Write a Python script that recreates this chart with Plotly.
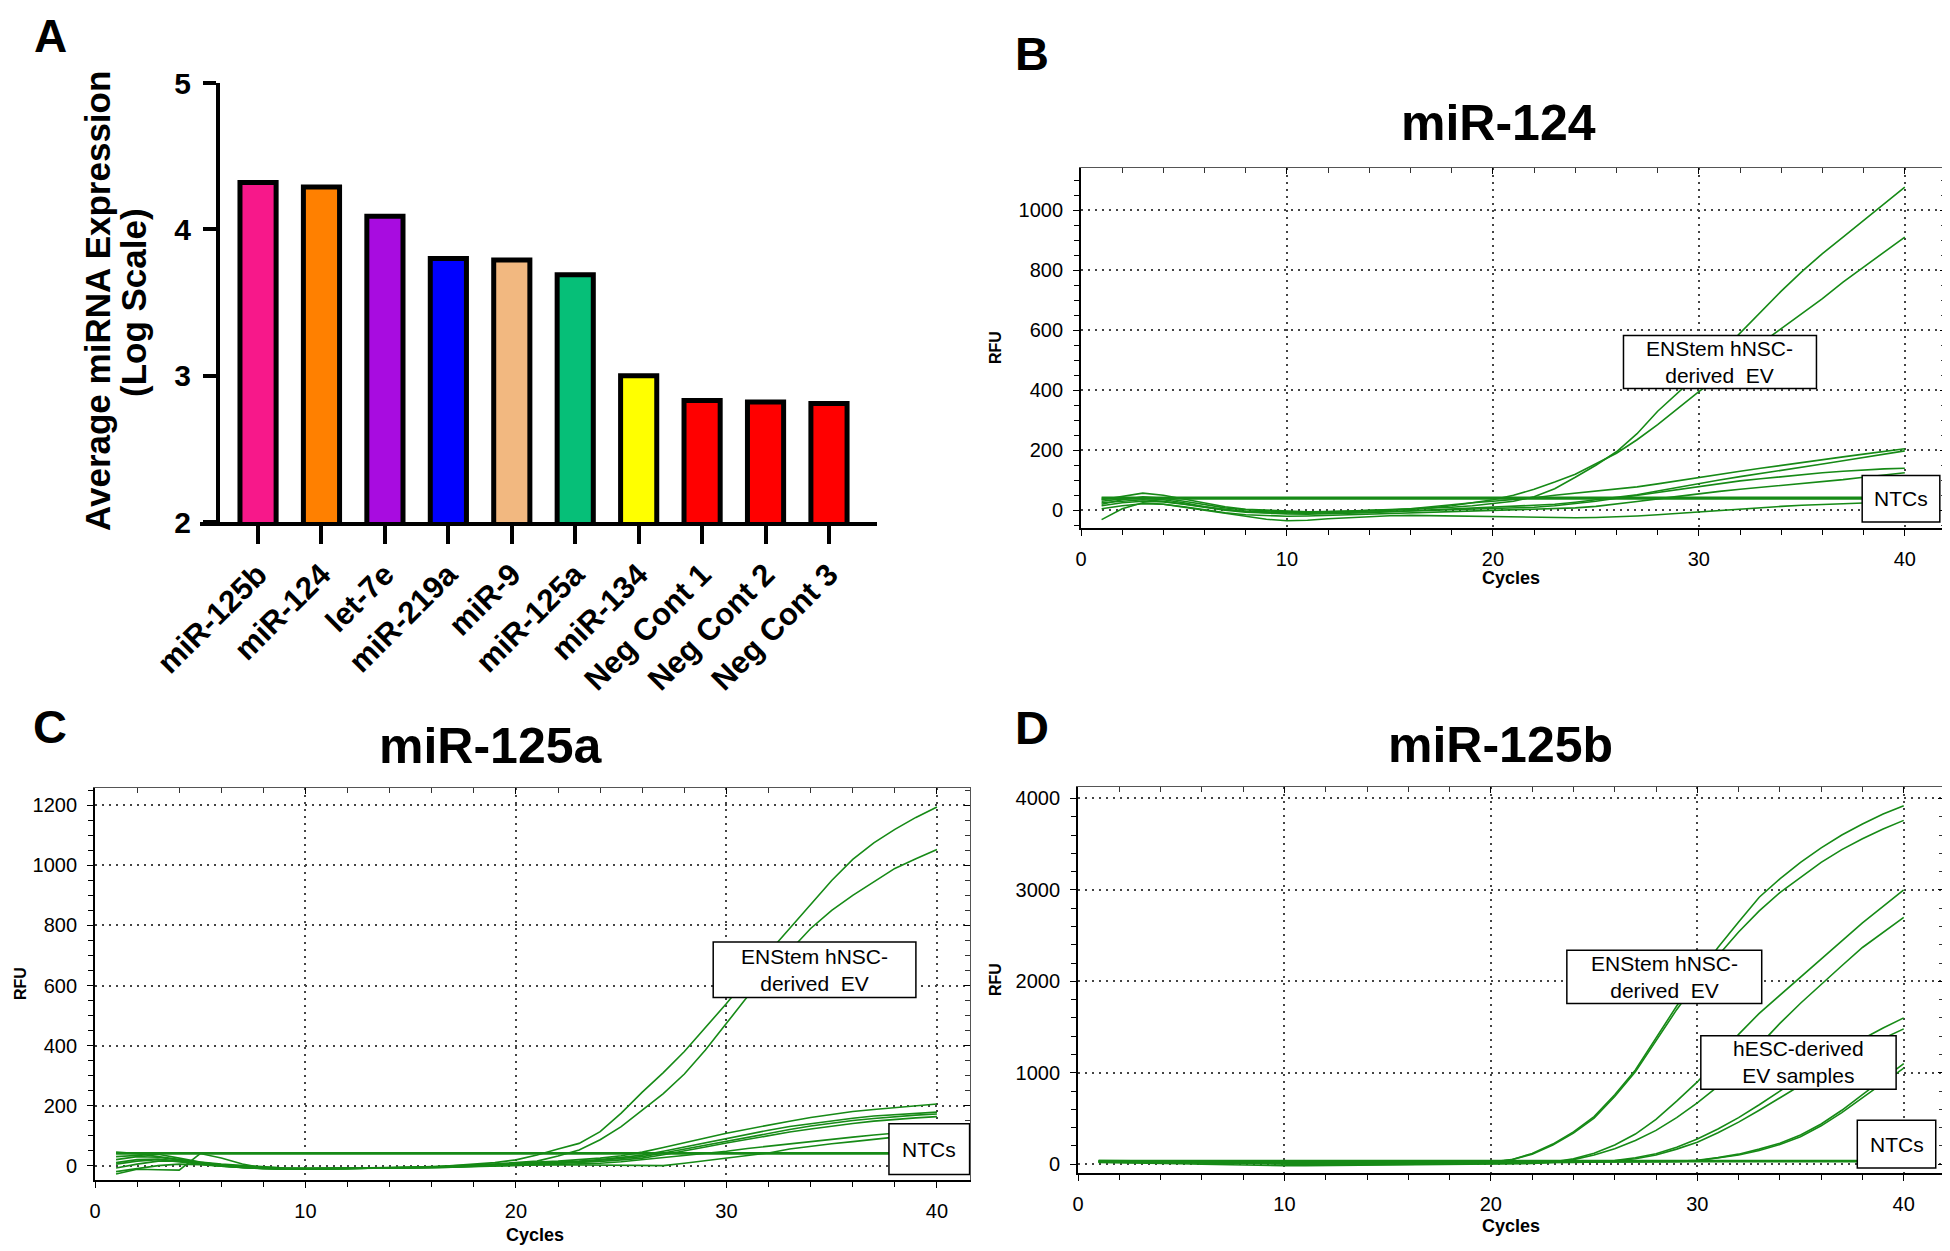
import plotly.graph_objects as go

# The page body adds an 8 px margin, so the figure is drawn 8 px smaller and
# every reference pixel position is shifted by that amount.
OFF = 8
W, H = 1950 - OFF, 1251 - OFF

# ---------------- Panel A data ----------------
MIRNA = ["miR-125b", "miR-124", "let-7e", "miR-219a", "miR-9", "miR-125a",
         "miR-134", "Neg Cont 1", "Neg Cont 2", "Neg Cont 3"]
EXPRESSION = [4.32, 4.29, 4.09, 3.80, 3.79, 3.69, 3.00, 2.83, 2.82, 2.81]
BAR_COLORS = ["#F7188A", "#FF8000", "#A80CE0", "#0000FF", "#F2B880",
              "#06BF78", "#FFFF00", "#FF0000", "#FF0000", "#FF0000"]
A_YTICKS = [2, 3, 4, 5]

# ---------------- qPCR data (RFU per cycle) ----------------
CYCLES = list(range(1, 41))
NTC_X = [1, 40]

# Panel B: miR-124
B_EV_1 = [20, 35, 45, 40, 30, 18, 8, 2, -2, -5, -6, -5, -3, 0, 2, 4, 7, 10, 15, 22,
          30, 45, 72, 110, 150, 195, 255, 330, 392, 455, 520, 589, 660, 730, 795, 855, 910, 965, 1020, 1076]
B_EV_2 = [35, 45, 57, 50, 38, 25, 12, 3, 0, -3, -5, -4, -2, 0, 1, 3, 8, 15, 25, 35,
          50, 70, 94, 120, 155, 190, 235, 285, 340, 395, 445, 500, 555, 605, 655, 705, 760, 810, 860, 910]
B_LOW_1 = [30, 38, 40, 35, 25, 12, 2, -3, -5, -8, -9, -8, -6, -3, 0, 5, 12, 18, 25, 30,
           35, 42, 50, 57, 63, 70, 78, 88, 99, 110, 120, 130, 140, 150, 160, 169, 178, 187, 196, 205]
B_LOW_2 = [15, 25, 30, 28, 20, 10, 0, -6, -10, -12, -13, -12, -10, -8, -5, -2, 2, 5, 8, 10,
           12, 15, 20, 27, 35, 42, 52, 64, 77, 90, 101, 112, 122, 133, 143, 154, 165, 176, 187, 198]
B_LOW_3 = [25, 30, 35, 30, 22, 12, 3, -4, -8, -10, -10, -9, -8, -6, -4, -2, 0, 2, 4, 5,
           7, 10, 15, 22, 30, 40, 50, 60, 70, 80, 89, 98, 105, 112, 119, 125, 130, 135, 138, 140]
B_LOW_4 = [5, 15, 22, 20, 12, 2, -8, -15, -18, -20, -19, -17, -15, -12, -10, -8, -6, -4, -2, 0,
           1, 2, 4, 8, 13, 20, 29, 38, 47, 55, 63, 70, 76, 82, 88, 95, 102, 110, 118, 125]
B_LOW_5 = [-31, 5, 25, 20, 10, 0, -12, -22, -30, -35, -33, -28, -24, -20, -18, -17, -18, -19, -20, -22,
           -23, -24, -25, -25, -24, -22, -19, -15, -10, -5, 0, 5, 9, 13, 17, 20, 23, 26, 27, 28]
B_NTC_1 = [42, 42]
B_NTC_2 = [39, 39]

# Panel C: miR-125a
C_EV_1 = [30, 35, 38, 25, 12, 5, 0, -5, -8, -10, -9, -8, -8, -7, -6, -5, 0, 5, 10, 19,
          35, 55, 74, 113, 175, 245, 310, 380, 460, 540, 625, 710, 790, 870, 950, 1020, 1075, 1120, 1160, 1195]
C_EV_2 = [45, 40, 30, 20, 10, 2, -3, -6, -8, -9, -9, -8, -8, -7, -6, -4, -2, 2, 5, 10,
          15, 32, 52, 86, 130, 185, 240, 305, 385, 474, 563, 645, 715, 790, 850, 900, 945, 990, 1022, 1053]
C_LOW_1 = [20, 30, 28, 18, 8, 0, -6, -10, -11, -11, -10, -9, -9, -8, -7, -5, -2, 2, 6, 10,
           12, 15, 20, 25, 33, 45, 60, 75, 92, 108, 122, 135, 148, 160, 170, 180, 187, 193, 199, 205]
C_LOW_2 = [10, 20, 22, 15, 5, -2, -7, -10, -12, -12, -11, -10, -9, -8, -7, -6, -3, 0, 3, 6,
           8, 11, 15, 20, 27, 35, 48, 62, 77, 92, 105, 118, 130, 140, 150, 158, 165, 170, 175, 178]
C_LOW_3 = [-8, 5, 15, 15, 10, 2, -5, -9, -11, -12, -11, -10, -10, -9, -8, -6, -4, -1, 2, 4,
           6, 9, 13, 18, 24, 30, 42, 55, 70, 83, 96, 108, 120, 132, 142, 150, 157, 163, 168, 172]
C_LOW_4 = [-28, -12, -14, -15, 40, 25, 5, -8, -12, -12, -11, -10, -9, -9, -8, -7, -5, -2, 1, 3,
           5, 7, 10, 14, 19, 25, 36, 48, 62, 75, 88, 100, 112, 122, 132, 140, 148, 154, 159, 163]
C_LOW_5 = [5, 15, 20, 12, 5, -2, -6, -9, -10, -10, -10, -9, -9, -8, -8, -7, -5, -3, -1, 1,
           2, 3, 5, 8, 13, 20, 25, 32, 40, 48, 57, 65, 72, 80, 88, 95, 102, 108, 114, 120]
C_LOW_6 = [-20, -10, 0, 5, 3, -2, -6, -9, -10, -10, -10, -9, -9, -8, -7, -6, -4, -2, 0, 2,
           2, 3, 2, 2, 1, 1, 0, 8, 16, 24, 32, 42, 55, 65, 73, 80, 88, 95, 100, 105]
C_NTC_1 = [42, 42]
C_NTC_2 = [40, 40]

# Panel D: miR-125b
D_EV_1 = [40, 38, 36, 34, 32, 30, 28, 26, 24, 22, 20, 20, 20, 20, 20, 20, 21, 22, 23, 25,
          50, 117, 220, 353, 520, 760, 1030, 1380, 1730, 2060, 2370, 2650, 2920, 3120, 3300, 3460, 3600, 3720, 3830, 3920]
D_EV_2 = [30, 30, 28, 26, 24, 22, 20, 18, 16, 15, 14, 14, 14, 14, 14, 15, 16, 17, 18, 22,
          48, 110, 210, 340, 505, 740, 1010, 1350, 1690, 2000, 2280, 2540, 2770, 2970, 3140, 3300, 3440, 3560, 3665, 3760]
D_ESC_1 = [20, 18, 15, 10, 5, 0, -5, -10, -14, -16, -16, -15, -14, -12, -10, -8, -5, -2, 0, 3,
           6, 10, 25, 60, 120, 210, 330, 490, 690, 900, 1150, 1420, 1650, 1850, 2050, 2250, 2450, 2640, 2820, 3000]
D_ESC_2 = [25, 22, 20, 16, 12, 8, 4, 0, -4, -6, -6, -5, -4, -2, 0, 2, 3, 4, 5, 6,
           7, 8, 20, 50, 100, 170, 260, 370, 510, 670, 850, 1060, 1300, 1540, 1760, 1970, 2170, 2370, 2540, 2700]
D_ESC_3 = [35, 32, 30, 28, 26, 24, 22, 20, 18, 17, 16, 15, 15, 15, 15, 15, 16, 17, 18, 19,
           20, 21, 22, 24, 28, 40, 70, 115, 185, 275, 385, 510, 650, 800, 950, 1100, 1240, 1370, 1490, 1600]
D_ESC_4 = [30, 28, 26, 24, 22, 20, 18, 16, 15, 14, 14, 14, 14, 14, 14, 14, 14, 14, 15, 15,
           16, 17, 18, 20, 25, 35, 60, 100, 165, 240, 345, 460, 590, 725, 860, 1000, 1135, 1260, 1375, 1480]
D_ESC_5 = [28, 26, 24, 22, 20, 18, 16, 15, 14, 14, 14, 14, 14, 15, 15, 16, 16, 17, 17, 18,
           18, 19, 19, 20, 21, 22, 23, 25, 32, 44, 72, 110, 165, 230, 320, 440, 590, 760, 930, 1100]
D_ESC_6 = [22, 20, 18, 16, 14, 12, 10, 9, 8, 8, 8, 8, 9, 10, 11, 12, 13, 14, 15, 16,
           16, 17, 17, 18, 18, 19, 19, 20, 28, 38, 65, 100, 150, 215, 300, 420, 565, 730, 890, 1050]
D_NTC_1 = [38, 38]
D_NTC_2 = [32, 32]

B_CURVES = [B_EV_1, B_EV_2, B_LOW_1, B_LOW_2, B_LOW_3, B_LOW_4, B_LOW_5]
B_NTCS = [B_NTC_1, B_NTC_2]
C_CURVES = [C_EV_1, C_EV_2, C_LOW_1, C_LOW_2, C_LOW_3, C_LOW_4, C_LOW_5, C_LOW_6]
C_NTCS = [C_NTC_1, C_NTC_2]
D_CURVES = [D_EV_1, D_EV_2, D_ESC_1, D_ESC_2, D_ESC_3, D_ESC_4, D_ESC_5, D_ESC_6]
D_NTCS = [D_NTC_1, D_NTC_2]

GREEN = "#168A16"
FONT = "Liberation Sans, Arial, sans-serif"


def fx(p):
    return (p - OFF) / W


def fy(p):
    return 1 - (p - OFF) / H


fig = go.Figure()

# ---- Panel A bars ----
fig.add_trace(go.Bar(
    x=MIRNA, y=EXPRESSION, xaxis="x", yaxis="y",
    marker=dict(color=BAR_COLORS, line=dict(color="black", width=5)),
    showlegend=False,
))

# ---- qPCR curves ----
for curves, ntcs, ax in [(B_CURVES, B_NTCS, "2"), (C_CURVES, C_NTCS, "3"), (D_CURVES, D_NTCS, "4")]:
    for ys in curves:
        fig.add_trace(go.Scatter(x=CYCLES, y=ys, mode="lines", xaxis="x" + ax, yaxis="y" + ax,
                                 line=dict(color=GREEN, width=1.6), showlegend=False))
    for ys in ntcs:
        fig.add_trace(go.Scatter(x=NTC_X, y=ys, mode="lines", xaxis="x" + ax, yaxis="y" + ax,
                                 line=dict(color=GREEN, width=2.2), showlegend=False))

axes = {}


def qpcr_axes(xdom, ydom, yrange, ydtick, yminor, xmax, ax, top_ax, right_ax):
    common = dict(automargin=False, tick0=0, zeroline=False, tickcolor="black")
    axes["xaxis" + ax] = dict(
        domain=xdom, range=[0, xmax], anchor="y" + ax, dtick=10,
        showline=True, linecolor="black", linewidth=1.8,
        ticks="outside", ticklen=6, tickwidth=1.3,
        minor=dict(dtick=2, tick0=0, ticks="outside", ticklen=5, tickwidth=1.1, tickcolor="black", showgrid=False),
        showgrid=True, gridcolor="#444", gridwidth=1.6, griddash="2px,5px",
        tickfont=dict(family=FONT, size=20, color="black"), ticklabelstandoff=6, **common)
    axes["yaxis" + ax] = dict(
        domain=ydom, range=yrange, anchor="x" + ax, dtick=ydtick,
        showline=True, linecolor="black", linewidth=1.8,
        ticks="outside", ticklen=6, tickwidth=1.3,
        minor=dict(dtick=yminor, tick0=0, ticks="outside", ticklen=5, tickwidth=1.1, tickcolor="black", showgrid=False),
        showgrid=True, gridcolor="#444", gridwidth=1.6, griddash="2px,5px",
        tickfont=dict(family=FONT, size=20, color="black"), ticklabelstandoff=6, **common)
    # top / right frame with inward ticks
    axes["xaxis" + top_ax] = dict(
        overlaying="x" + ax, side="top", range=[0, xmax], anchor="y" + ax, dtick=10,
        showline=True, linecolor="#555", linewidth=1.2, ticks="inside", ticklen=6, tickwidth=1.1,
        minor=dict(dtick=2, tick0=0, ticks="inside", ticklen=5, tickwidth=1, tickcolor="#333", showgrid=False),
        showticklabels=False, showgrid=False, **common)
    axes["yaxis" + right_ax] = dict(
        overlaying="y" + ax, side="right", range=yrange, anchor="x" + ax, dtick=ydtick,
        showline=True, linecolor="#555", linewidth=1.2, ticks="inside", ticklen=6, tickwidth=1.1,
        minor=dict(dtick=yminor, tick0=0, ticks="inside", ticklen=5, tickwidth=1, tickcolor="#333", showgrid=False),
        showticklabels=False, showgrid=False, **common)


qpcr_axes([fx(1081), fx(1946)], [fy(528), fy(168)], [-59, 1140], 200, 50, 42.0, "2", "5", "5")
qpcr_axes([fx(95), fx(970)], [fy(1180), fy(788)], [-48, 1258], 200, 50, 41.57, "3", "6", "6")
qpcr_axes([fx(1078), fx(1944)], [fy(1173), fy(787)], [-96, 4125], 1000, 200, 41.95, "4", "7", "7")

# invisible traces so the frame axes are drawn
for ax in ["5", "6", "7"]:
    fig.add_trace(go.Scatter(x=[None], y=[None], xaxis="x" + ax, yaxis="y" + ax,
                             mode="lines", showlegend=False, hoverinfo="skip"))

bold = dict(family=FONT, color="black", weight="bold")

fig.update_layout(
    width=W, height=H, margin=dict(l=0, r=0, t=0, b=0, autoexpand=False),
    paper_bgcolor="white", plot_bgcolor="white",
    bargap=0.43, showlegend=False,
    xaxis=dict(domain=[fx(200), fx(877)], range=[-0.915, 9.757], anchor="y", automargin=False,
               type="category", showline=True, linecolor="black", linewidth=4,
               ticks="outside", ticklen=18, tickwidth=4, tickcolor="black",
               tickangle=-45, tickfont=dict(size=31, **bold), showgrid=False, zeroline=False),
    yaxis=dict(domain=[fy(522), fy(83)], range=[2, 5], anchor="free", position=fx(218), automargin=False,
               tickvals=A_YTICKS, showline=True, linecolor="black", linewidth=4,
               ticks="outside", ticklen=13, tickwidth=4, tickcolor="black",
               tickfont=dict(size=30, **bold), showgrid=False, zeroline=False,
               ticklabelstandoff=6),
    **axes,
)

ann = []
# panel letters
ann.append(dict(text="A", x=fx(50), y=1.0, xref="paper", yref="paper",
                showarrow=False, xanchor="center", yanchor="top",
                font=dict(size=46, **bold)))
for letter, (px, py) in zip("BCD", [(1032, 53), (1032 - 982, 726), (1032, 727)]):
    ann.append(dict(text=letter, x=fx(px), y=fy(py), xref="paper", yref="paper",
                    showarrow=False, xanchor="center", yanchor="middle",
                    font=dict(size=47, **bold)))
# panel titles
for title, (px, py) in [("miR-124", (1498, 123)), ("miR-125a", (491, 746)), ("miR-125b", (1500, 745))]:
    ann.append(dict(text=title, x=fx(px), y=fy(py), xref="paper", yref="paper",
                    showarrow=False, xanchor="center", yanchor="middle",
                    font=dict(size=50, **bold)))
# panel A y title
ann.append(dict(text="Average miRNA Expression", x=fx(97), y=fy(301), xref="paper", yref="paper",
                showarrow=False, textangle=-90, xanchor="center", yanchor="middle",
                font=dict(size=35, **bold)))
ann.append(dict(text="(Log Scale)", x=fx(133), y=fy(303), xref="paper", yref="paper",
                showarrow=False, textangle=-90, xanchor="center", yanchor="middle",
                font=dict(size=35, **bold)))
# qPCR axis titles
for (rx, ry), (cx, cy) in [((995, 348), (1511, 578)), ((20, 984), (535, 1235)), ((995, 980), (1511, 1226))]:
    ann.append(dict(text="RFU", x=fx(rx), y=fy(ry), xref="paper", yref="paper",
                    showarrow=False, textangle=-90, xanchor="center", yanchor="middle",
                    font=dict(size=16, **bold)))
    ann.append(dict(text="Cycles", x=fx(cx), y=fy(cy), xref="paper", yref="paper",
                    showarrow=False, xanchor="center", yanchor="middle",
                    font=dict(size=18, **bold)))

# label boxes (data coordinates of each panel)
BOXES = [
    ("2", "ENStem hNSC-<br>derived\u00a0 EV", 26.34, 35.71, 406, 582),
    ("2", "NTCs", 37.93, 41.70, -39, 116),
    ("3", "ENStem hNSC-<br>derived\u00a0 EV", 29.37, 39.00, 560, 745),
    ("3", "NTCs", 37.72, 41.55, -30, 139),
    ("4", "ENStem hNSC-<br>derived\u00a0 EV", 23.68, 33.12, 1758, 2341),
    ("4", "hESC-derived<br>EV samples", 30.17, 39.63, 821, 1404),
    ("4", "NTCs", 37.75, 41.55, -40, 481),
]
shapes = []
for ax, text, x0, x1, y0, y1 in BOXES:
    shapes.append(dict(type="rect", xref="x" + ax, yref="y" + ax, x0=x0, x1=x1, y0=y0, y1=y1,
                       fillcolor="white", line=dict(color="black", width=1.5), layer="above"))
    ann.append(dict(text=text, x=(x0 + x1) / 2, y=(y0 + y1) / 2, xref="x" + ax, yref="y" + ax,
                    showarrow=False, xanchor="center", yanchor="middle",
                    font=dict(family=FONT, size=21, color="black")))

fig.update_layout(annotations=ann, shapes=shapes)

fig.write_html("out.html")
